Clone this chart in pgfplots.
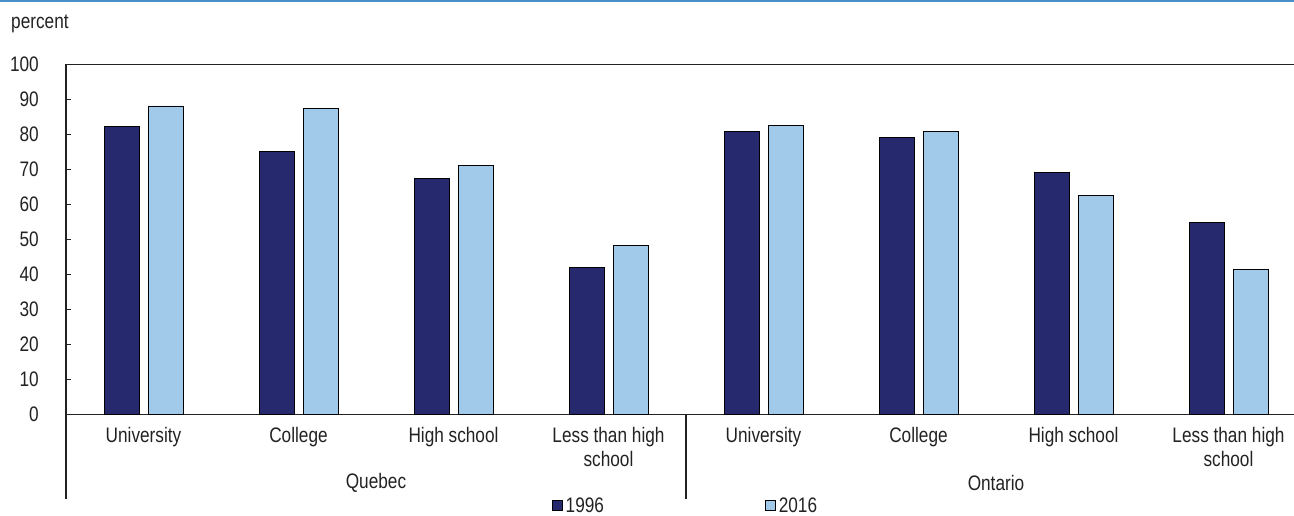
\documentclass[border=0pt]{standalone}
\usepackage{fontspec}
\setmainfont{Liberation Sans}[FakeStretch=0.82]
\usepackage{pgfplots}
\pgfplotsset{compat=1.18}
\definecolor{navy}{RGB}{39,41,111}
\definecolor{lightb}{RGB}{160,201,234}
\definecolor{topblue}{RGB}{74,144,200}
\definecolor{txt}{RGB}{34,34,34}
\begin{document}
\begin{tikzpicture}[x=1pt,y=1pt]
\useasboundingbox (0,0) rectangle (1294,-516);
\fill[topblue] (0,0) rectangle (1294,-2);
\node[anchor=base west, inner sep=0pt, text=txt, font=\fontsize{21pt}{24pt}\selectfont] at (11,-29) {percent};
\begin{axis}[
  at={(66pt,-414.3pt)}, anchor=south west,
  scale only axis, width=1240pt, height=349.6pt,
  xmin=-0.5, xmax=7.5, ymin=0, ymax=100,
  ytick={0,10,...,100},
  xtick={0,...,7},
  xticklabels={University,College,High school,{Less than high\\school},University,College,High school,{Less than high\\school}},
  xtick style={draw=none},
  ytick pos=left, tick align=inside, major tick length=5pt,
  ytick style={line width=1pt, color=txt},
  axis line style={line width=1.3pt, color=txt},
  font=\fontsize{21pt}{23.5pt}\selectfont,
  tick label style={text=txt},
  /pgf/number format/assume math mode=true,
  yticklabel style={inner sep=0pt, anchor=east, xshift=-27pt},
  xticklabel style={inner sep=0pt, anchor=north, align=center, yshift=-8pt},
  ybar=9pt, bar width=35pt,
  legend columns=2,
  legend style={at={(0.5,-0.262)}, anchor=center, draw=none, fill=none,
    /tikz/every even column/.append style={column sep=158pt},
    nodes={inner sep=3pt, text=txt}},
  legend image code/.code={\draw[#1,draw=black,line width=0.8pt] (0pt,-5pt) rectangle (10pt,5pt);},
  clip=false,
]
\addplot[fill=navy, draw=black, line width=0.8pt] coordinates {(0,82.3) (1,75.2) (2,67.4) (3,42.0) (4,80.8) (5,79.2) (6,69.1) (7,54.9)};
\addplot[fill=lightb, draw=black, line width=0.8pt] coordinates {(0,88.2) (1,87.6) (2,71.3) (3,48.2) (4,82.6) (5,80.9) (6,62.5) (7,41.5)};
\legend{1996,2016}
\draw[line width=1.3pt, color=txt] (axis cs:-0.5,0) -- ([yshift=-85pt]axis cs:-0.5,0);
\draw[line width=1.3pt, color=txt] (axis cs:3.5,0) -- ([yshift=-85pt]axis cs:3.5,0);
\draw[line width=1.3pt, color=txt] (axis cs:7.5,0) -- ([yshift=-85pt]axis cs:7.5,0);
\node[text=txt, inner sep=0pt] at ([yshift=-69pt]axis cs:1.5,0) {Quebec};
\node[text=txt, inner sep=0pt] at ([yshift=-69pt]axis cs:5.5,0) {Ontario};
\end{axis}
\end{tikzpicture}
\end{document}
